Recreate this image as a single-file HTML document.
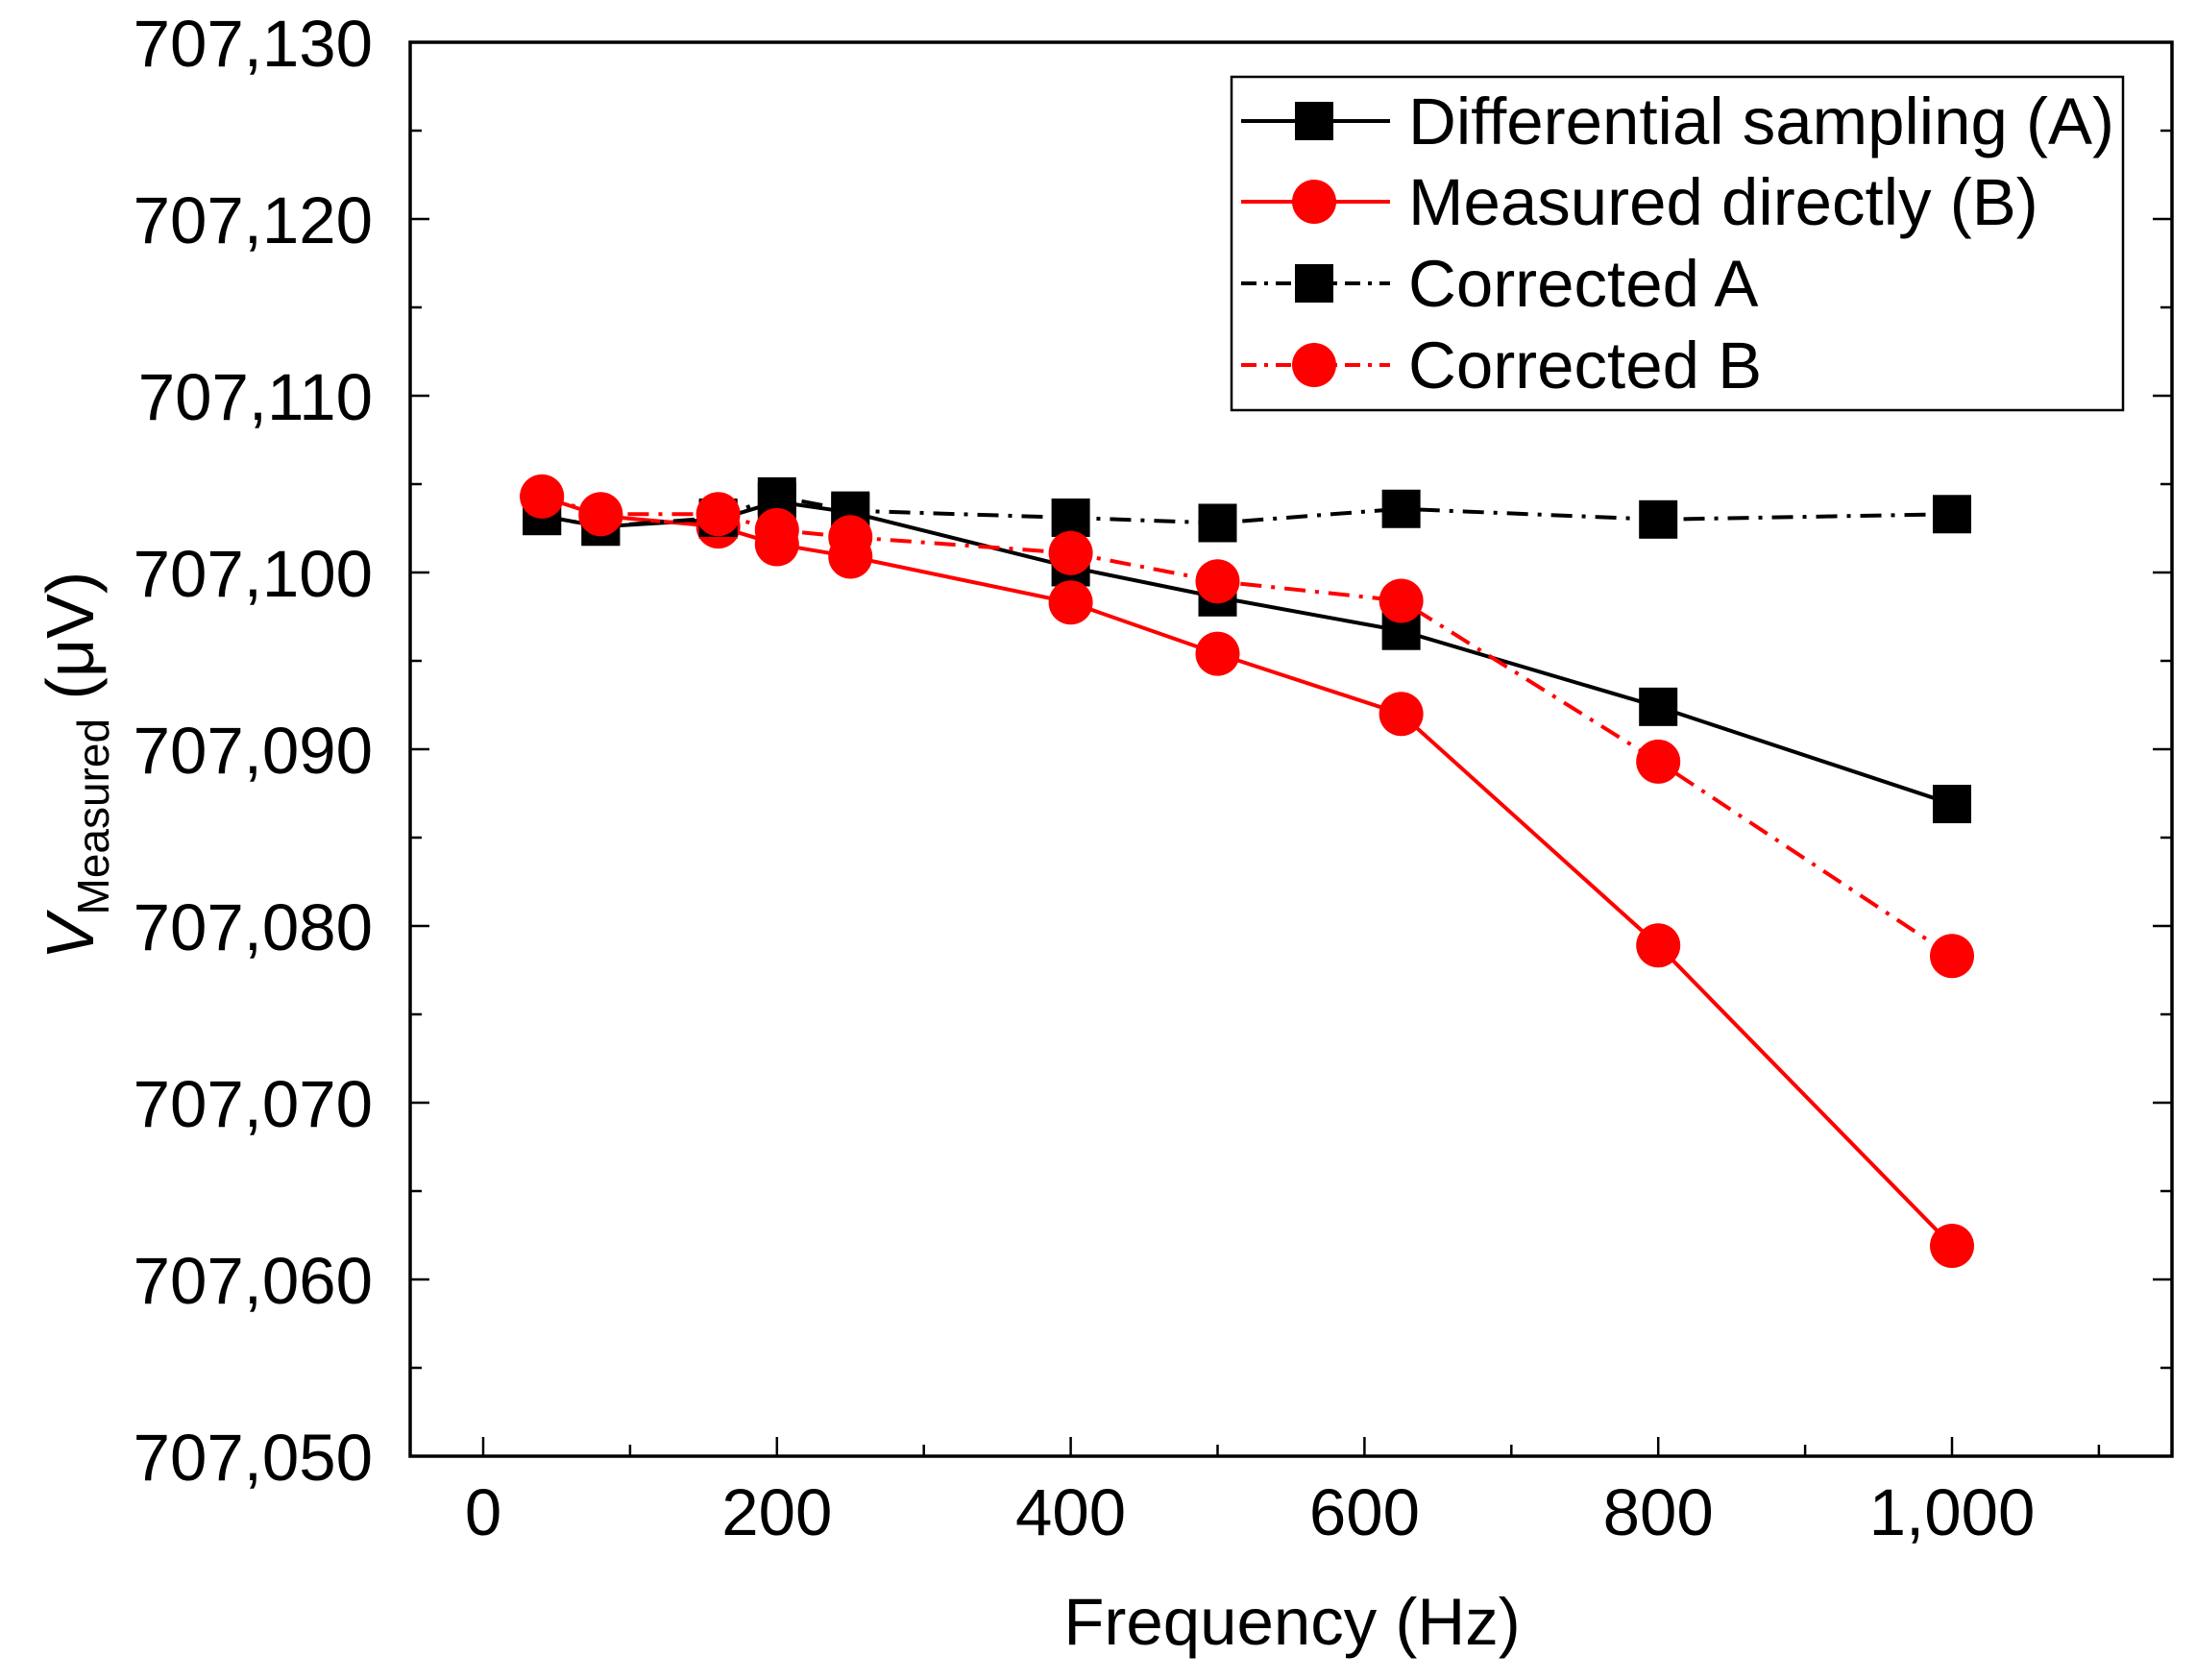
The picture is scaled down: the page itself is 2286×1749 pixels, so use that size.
<!DOCTYPE html>
<html><head><meta charset="utf-8"><style>
html,body{margin:0;padding:0;background:#fff;}
svg{display:block;font-family:"Liberation Sans",sans-serif;}
</style></head><body>
<svg id="chart" width="2286" height="1749" viewBox="0 0 2286 1749" xmlns="http://www.w3.org/2000/svg"></svg>
<script>
const frequencies = [40, 80, 160, 200, 250, 400, 500, 625, 800, 1000];
const seriesA = [707103.2, 707102.6, 707103.0, 707104.0, 707103.4, 707100.3, 707098.6, 707096.7, 707092.4, 707086.9];
const seriesB = [707104.3, 707103.2, 707102.6, 707101.6, 707100.9, 707098.3, 707095.4, 707092.0, 707078.9, 707061.9];
const seriesCorrA = [707103.2, 707102.6, 707103.1, 707104.3, 707103.5, 707103.1, 707102.8, 707103.6, 707103.0, 707103.3];
const seriesCorrB = [707104.3, 707103.3, 707103.3, 707102.4, 707102.0, 707101.1, 707099.5, 707098.4, 707089.3, 707078.3];
const xTickValues = [0, 200, 400, 600, 800, 1000];
const xTickLabels = ["0", "200", "400", "600", "800", "1,000"];
const yTickValues = [707050, 707060, 707070, 707080, 707090, 707100, 707110, 707120, 707130];
const yTickLabels = ["707,050", "707,060", "707,070", "707,080", "707,090", "707,100", "707,110", "707,120", "707,130"];

const NS = "http://www.w3.org/2000/svg";
const svg = document.getElementById("chart");
const L = 427, R = 2261, T = 44, B = 1516;
function xs(v){ return 503 + (v - 0) * (2032 - 503) / 1000; }
function ys(v){ return B - (v - 707050) * (B - T) / 80; }
function mk(tag, attrs, parent){
  const e = document.createElementNS(NS, tag);
  for (const k in attrs) e.setAttribute(k, attrs[k]);
  (parent || svg).appendChild(e);
  return e;
}

const ticks = mk("g", {});


for (let v = 0; v <= 1100; v += 100) {
  const major = v % 200 === 0;
  const len = major ? 20 : 12;
  mk("line", {x1: xs(v), x2: xs(v), y1: B, y2: B - len, stroke: "#000", "stroke-width": 2.5}, ticks);
}
for (let v = 707050; v <= 707130; v += 5) {
  const major = v % 10 === 0;
  const len = major ? 20 : 12;
  mk("line", {x1: L, x2: L + len, y1: ys(v), y2: ys(v), stroke: "#000", "stroke-width": 2.5}, ticks);
  mk("line", {x1: R, x2: R - len, y1: ys(v), y2: ys(v), stroke: "#000", "stroke-width": 2.5}, ticks);
}

const frame = mk("rect", {x: L, y: T, width: R - L, height: B - T, fill: "none", stroke: "#000", "stroke-width": 3.5});



xTickValues.forEach((v, i) => {
  const t = mk("text", {x: xs(v), y: 1598, "font-size": 69, "text-anchor": "middle", fill: "#000"});
  t.textContent = xTickLabels[i];
  
  
});
yTickValues.forEach((v, i) => {
  const t = mk("text", {x: 388, y: ys(v) + 25, "font-size": 69, "text-anchor": "end", fill: "#000"});
  t.textContent = yTickLabels[i];
  
  
});

const xt = mk("text", {x: 1345, y: 1712, "font-size": 69, "text-anchor": "middle", fill: "#000"});
xt.textContent = "Frequency (Hz)";



const yt = mk("text", {x: 0, y: 0, "font-size": 70, "text-anchor": "middle", fill: "#000", transform: "translate(97,797) rotate(-90)"});


const s1 = mk("tspan", {"font-style": "italic"}, yt); s1.textContent = "V";
const s2 = mk("tspan", {"font-size": 46, dy: 16}, yt); s2.textContent = "Measured";
const s3 = mk("tspan", {dy: -16}, yt); s3.textContent = " (\u03BCV)";

const series = [
  {name: "series-differential-sampling-a", vals: seriesA, color: "#000", dash: "", marker: "square"},
  {name: "series-measured-directly-b", vals: seriesB, color: "#ff0000", dash: "", marker: "circle"},
  {name: "series-corrected-a", vals: seriesCorrA, color: "#000", dash: "22 10 4 10", marker: "square"},
  {name: "series-corrected-b", vals: seriesCorrB, color: "#ff0000", dash: "22 10 4 10", marker: "circle"}
];
function marker(g, type, x, y, color){
  if (type === "square") return mk("rect", {x: x - 20, y: y - 20, width: 40, height: 40, fill: color}, g);
  return mk("circle", {cx: x, cy: y, r: 23, fill: color}, g);
}
series.forEach(s => {
  const g = mk("g", {});
  
  
  const pts = frequencies.map((f, i) => xs(f) + "," + ys(s.vals[i])).join(" ");
  const pl = mk("polyline", {points: pts, fill: "none", stroke: s.color, "stroke-width": 4, "stroke-dasharray": s.dash}, g);
  
  
  frequencies.forEach((f, i) => {
    const m = marker(g, s.marker, xs(f), ys(s.vals[i]), s.color);
    
    
  });
});

const lg = mk("g", {});


mk("rect", {x: 1282, y: 80, width: 928, height: 347, fill: "#fff", stroke: "#000", "stroke-width": 2.5}, lg);
const labels = ["Differential sampling (A)", "Measured directly (B)", "Corrected A", "Corrected B"];
const rowsY = [126, 210, 295, 380];
series.forEach((s, i) => {
  const eg = mk("g", {}, lg);
  
  
  const y = rowsY[i];
  mk("line", {x1: 1292, x2: 1447, y1: y, y2: y, stroke: s.color, "stroke-width": 4, "stroke-dasharray": s.dash ? "16 8 4 8" : ""}, eg);
  marker(eg, s.marker, 1368, y, s.color);
  const t = mk("text", {x: 1466, y: y + 24, "font-size": 69, fill: "#000"}, eg);
  t.textContent = labels[i];
});
</script>
</body></html>
